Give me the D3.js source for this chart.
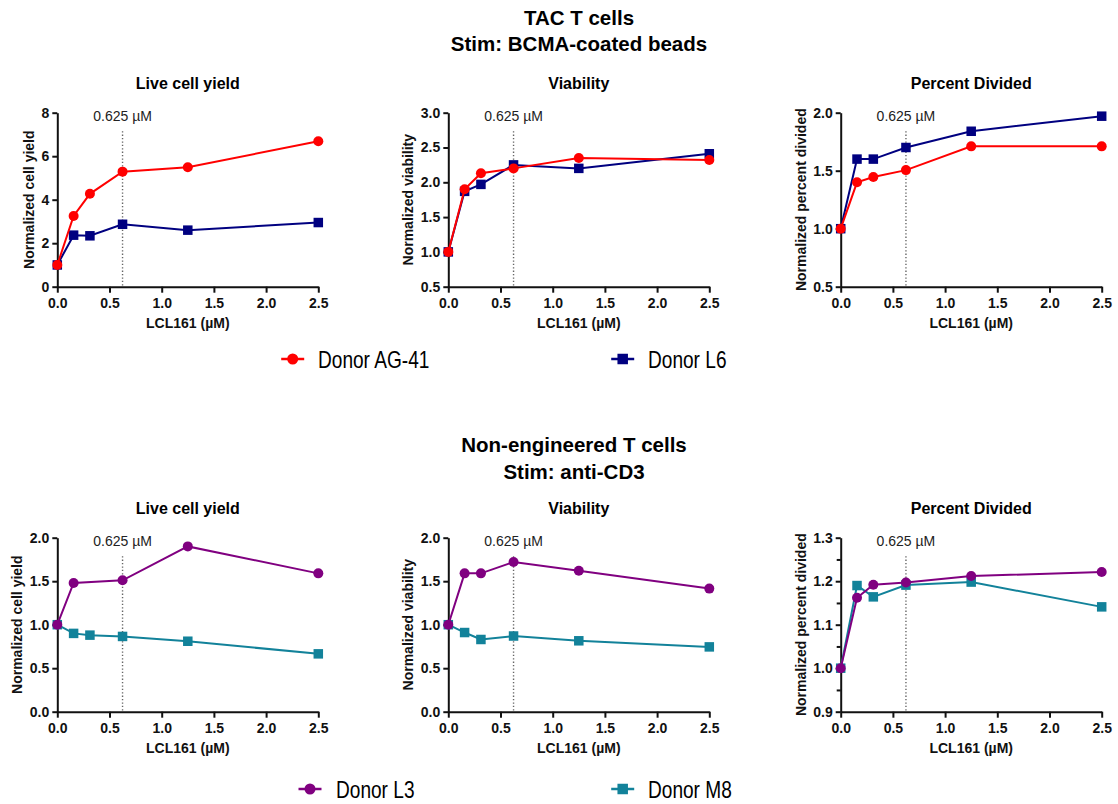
<!DOCTYPE html>
<html>
<head>
<meta charset="utf-8">
<script src="https://cdn.jsdelivr.net/npm/d3@7"></script>
<style>
  html, body { margin: 0; padding: 0; background: #fff; }
  svg { display: block; font-family: "Liberation Sans", Arial, sans-serif; }
</style>
</head>
<body>
<svg id="chart" width="1118" height="804"></svg>
<script>
// ---------------- DATA ----------------
const concentrations = [0, 0.15625, 0.3125, 0.625, 1.25, 2.5];
const xTickValues = [0, 0.5, 1.0, 1.5, 2.0, 2.5];
const markerConcentration = 0.625;
const markerLabel = "0.625 µM";
const xAxisTitle = "LCL161 (µM)";

const groupTitles = [
  ["TAC T cells", "Stim: BCMA-coated beads"],
  ["Non-engineered T cells", "Stim: anti-CD3"]
];
const panelTitles = ["Live cell yield", "Viability", "Percent Divided"];
const yAxisTitles = ["Normalized cell yield", "Normalized viability", "Normalized percent divided"];

const tacDonors = ["Donor AG-41", "Donor L6"];
const neDonors = ["Donor L3", "Donor M8"];

// TAC T cells
const tacYieldAG41 = [1.0, 3.25, 4.27, 5.29, 5.49, 6.69];
const tacYieldL6   = [1.0, 2.37, 2.34, 2.87, 2.60, 2.95];
const tacViabAG41  = [1.0, 1.90, 2.13, 2.20, 2.35, 2.32];
const tacViabL6    = [1.0, 1.87, 1.97, 2.25, 2.20, 2.41];
const tacDivAG41   = [1.0, 1.40, 1.445, 1.505, 1.71, 1.71];
const tacDivL6     = [1.0, 1.60, 1.60, 1.70, 1.84, 1.97];
// Non-engineered T cells
const neYieldL3 = [1.0, 1.48, null, 1.51, 1.90, 1.59];
const neYieldM8 = [1.0, 0.90, 0.88, 0.865, 0.81, 0.665];
const neViabL3  = [1.0, 1.59, 1.59, 1.72, 1.62, 1.415];
const neViabM8  = [1.0, 0.91, 0.83, 0.87, 0.815, 0.745];
const neDivL3   = [1.0, 1.162, 1.192, 1.197, 1.212, 1.221];
const neDivM8   = [1.0, 1.19, 1.164, 1.191, 1.198, 1.141];

// y-axis tick labels per panel
const yTicksYield = [0, 2, 4, 6, 8];
const yTicksViab  = [0.5, 1.0, 1.5, 2.0, 2.5, 3.0];
const yTicksDiv   = [0.5, 1.0, 1.5, 2.0];
const yTicksNE    = [0, 0.5, 1.0, 1.5, 2.0];
const yTicksNEDiv = [0.9, 1.0, 1.1, 1.2, 1.3];
const yMinorNEDiv = [0.95, 1.05, 1.15, 1.25];

// ---------------- STYLE / LAYOUT ----------------
const colors = { ag41: "#FF0000", l6: "#000080", l3: "#800080", m8: "#12829A" };
const font = '"Liberation Sans", Arial, sans-serif';
const panelXs = [[57.3, 318.3], [448.3, 709.3], [840.7, 1101.7]];
const rowTop = [112.7, 537.7];
const plotH = 174;

const svg = d3.select("#chart");

const groups = [
  {
    titleY: [25, 51], titleX: 579, dy: 0,
    panels: [
      { domain: [0, 8], ticks: yTicksYield, fmt: d3.format("d"),
        series: [ {name: tacDonors[1], vals: tacYieldL6, color: colors.l6, shape: "square"},
                  {name: tacDonors[0], vals: tacYieldAG41, color: colors.ag41, shape: "circle"} ] },
      { domain: [0.5, 3.0], ticks: yTicksViab, fmt: d3.format(".1f"),
        series: [ {name: tacDonors[1], vals: tacViabL6, color: colors.l6, shape: "square"},
                  {name: tacDonors[0], vals: tacViabAG41, color: colors.ag41, shape: "circle"} ] },
      { domain: [0.5, 2.0], ticks: yTicksDiv, fmt: d3.format(".1f"),
        series: [ {name: tacDonors[1], vals: tacDivL6, color: colors.l6, shape: "square"},
                  {name: tacDonors[0], vals: tacDivAG41, color: colors.ag41, shape: "circle"} ] }
    ],
    legend: { y: 359, items: [
      { name: tacDonors[0], color: colors.ag41, shape: "circle", x: 292.7, tx: 318 },
      { name: tacDonors[1], color: colors.l6, shape: "square", x: 622.7, tx: 648 } ] }
  },
  {
    titleY: [452, 479], titleX: 574, dy: 425,
    panels: [
      { domain: [0, 2.0], ticks: yTicksNE, fmt: d3.format(".1f"),
        series: [ {name: neDonors[1], vals: neYieldM8, color: colors.m8, shape: "square"},
                  {name: neDonors[0], vals: neYieldL3, color: colors.l3, shape: "circle"} ] },
      { domain: [0, 2.0], ticks: yTicksNE, fmt: d3.format(".1f"),
        series: [ {name: neDonors[1], vals: neViabM8, color: colors.m8, shape: "square"},
                  {name: neDonors[0], vals: neViabL3, color: colors.l3, shape: "circle"} ] },
      { domain: [0.9, 1.3], ticks: yTicksNEDiv, minor: yMinorNEDiv, fmt: d3.format(".1f"),
        series: [ {name: neDonors[1], vals: neDivM8, color: colors.m8, shape: "square"},
                  {name: neDonors[0], vals: neDivL3, color: colors.l3, shape: "circle"} ] }
    ],
    legend: { y: 789, items: [
      { name: neDonors[0], color: colors.l3, shape: "circle", x: 310, tx: 336 },
      { name: neDonors[1], color: colors.m8, shape: "square", x: 622.7, tx: 648 } ] }
  }
];

function drawMarker(g, shape, cx, cy, color, size) {
  if (shape === "circle") {
    g.append("circle").attr("cx", cx).attr("cy", cy).attr("r", size / 2).attr("fill", color);
  } else {
    g.append("rect").attr("x", cx - size / 2).attr("y", cy - size / 2)
      .attr("width", size).attr("height", size).attr("fill", color);
  }
}

groups.forEach((grp, gi) => {
  // group titles
  grp.titleY.forEach((ty, i) => {
    svg.append("text").attr("x", grp.titleX).attr("y", ty)
      .attr("text-anchor", "middle").attr("font-size", 20.5).attr("font-weight", "bold")
      .attr("fill", "#000").text(groupTitles[gi][i]);
  });

  const top = rowTop[gi];
  const bottom = top + plotH;

  grp.panels.forEach((p, pi) => {
    const [x0, x1] = panelXs[pi];
    const x = d3.scaleLinear().domain([0, 2.5]).range([x0, x1]);
    const y = d3.scaleLinear().domain(p.domain).range([bottom, top]);
    const g = svg.append("g");

    // panel title
    g.append("text").attr("x", (x0 + x1) / 2).attr("y", top - 23.5)
      .attr("text-anchor", "middle").attr("font-size", 16).attr("font-weight", "bold")
      .text(panelTitles[pi]);

    // dotted reference line
    g.append("line")
      .attr("x1", x(markerConcentration)).attr("x2", x(markerConcentration))
      .attr("y1", top + 18.5).attr("y2", bottom)
      .attr("stroke", "#666").attr("stroke-width", 1.4).attr("stroke-dasharray", "1.3,2.1");
    g.append("text").attr("x", x(markerConcentration)).attr("y", top + 8.5)
      .attr("text-anchor", "middle").attr("font-size", 14).attr("fill", "#222")
      .text(markerLabel);

    // x axis
    const xa = g.append("g").attr("transform", `translate(0,${bottom})`)
      .call(d3.axisBottom(x).tickValues(xTickValues).tickFormat(d3.format(".1f"))
        .tickSize(6).tickSizeOuter(0).tickPadding(5));
    xa.selectAll("text").attr("font-size", 14).attr("font-weight", "bold")
      .attr("font-family", font).attr("fill", "#111");
    xa.select(".domain").attr("stroke", "#111").attr("stroke-width", 2);
    xa.selectAll(".tick line").attr("stroke", "#111").attr("stroke-width", 2);

    // y axis
    const ya = g.append("g").attr("transform", `translate(${x0},0)`)
      .call(d3.axisLeft(y).tickValues(p.ticks).tickFormat(p.fmt)
        .tickSize(5).tickSizeOuter(0).tickPadding(3));
    ya.selectAll("text").attr("font-size", 14).attr("font-weight", "bold")
      .attr("font-family", font).attr("fill", "#111");
    ya.select(".domain").attr("stroke", "#111").attr("stroke-width", 2);
    ya.selectAll(".tick line").attr("stroke", "#111").attr("stroke-width", 2);
    if (p.minor) {
      g.append("g").attr("transform", `translate(${x0},0)`)
        .call(d3.axisLeft(y).tickValues(p.minor).tickFormat("").tickSize(4).tickSizeOuter(0))
        .call(a => a.select(".domain").remove())
        .selectAll(".tick line").attr("stroke", "#111").attr("stroke-width", 2);
    }

    // y axis title
    const bb = ya.node().getBBox();
    const ylx = x0 + bb.x - 12.5;
    g.append("text").attr("transform", `translate(${ylx},${(top + bottom) / 2}) rotate(-90)`)
      .attr("text-anchor", "middle").attr("dy", "0.35em")
      .attr("font-size", 14).attr("font-weight", "bold").attr("fill", "#111")
      .text(yAxisTitles[pi]);

    // x axis title
    g.append("text").attr("x", (x0 + x1) / 2).attr("y", bottom + 41)
      .attr("text-anchor", "middle").attr("font-size", 14).attr("font-weight", "bold")
      .attr("fill", "#111").text(xAxisTitle);

    // series
    p.series.forEach(s => {
      const pts = concentrations.map((c, i) => ({ c, v: s.vals[i] })).filter(d => d.v !== null);
      const line = d3.line().x(d => x(d.c)).y(d => y(d.v));
      g.append("path").datum(pts).attr("d", line)
        .attr("fill", "none").attr("stroke", s.color).attr("stroke-width", 2);
      const mg = g.append("g");
      pts.forEach(d => drawMarker(mg, s.shape, x(d.c), y(d.v), s.color, s.shape === "circle" ? 10 : 9.5));
    });
  });

  // legend
  const lg = svg.append("g");
  grp.legend.items.forEach(it => {
    lg.append("line").attr("x1", it.x - 11.5).attr("x2", it.x + 11.5)
      .attr("y1", grp.legend.y).attr("y2", grp.legend.y)
      .attr("stroke", it.color).attr("stroke-width", 2.5);
    drawMarker(lg, it.shape, it.x, grp.legend.y, it.color, it.shape === "circle" ? 11 : 10.5);
    lg.append("text")
      .attr("transform", `translate(${it.tx},${grp.legend.y + 8.5}) scale(0.83,1)`)
      .attr("font-size", 23).attr("fill", "#000").text(it.name);
  });
});
</script>
</body>
</html>
